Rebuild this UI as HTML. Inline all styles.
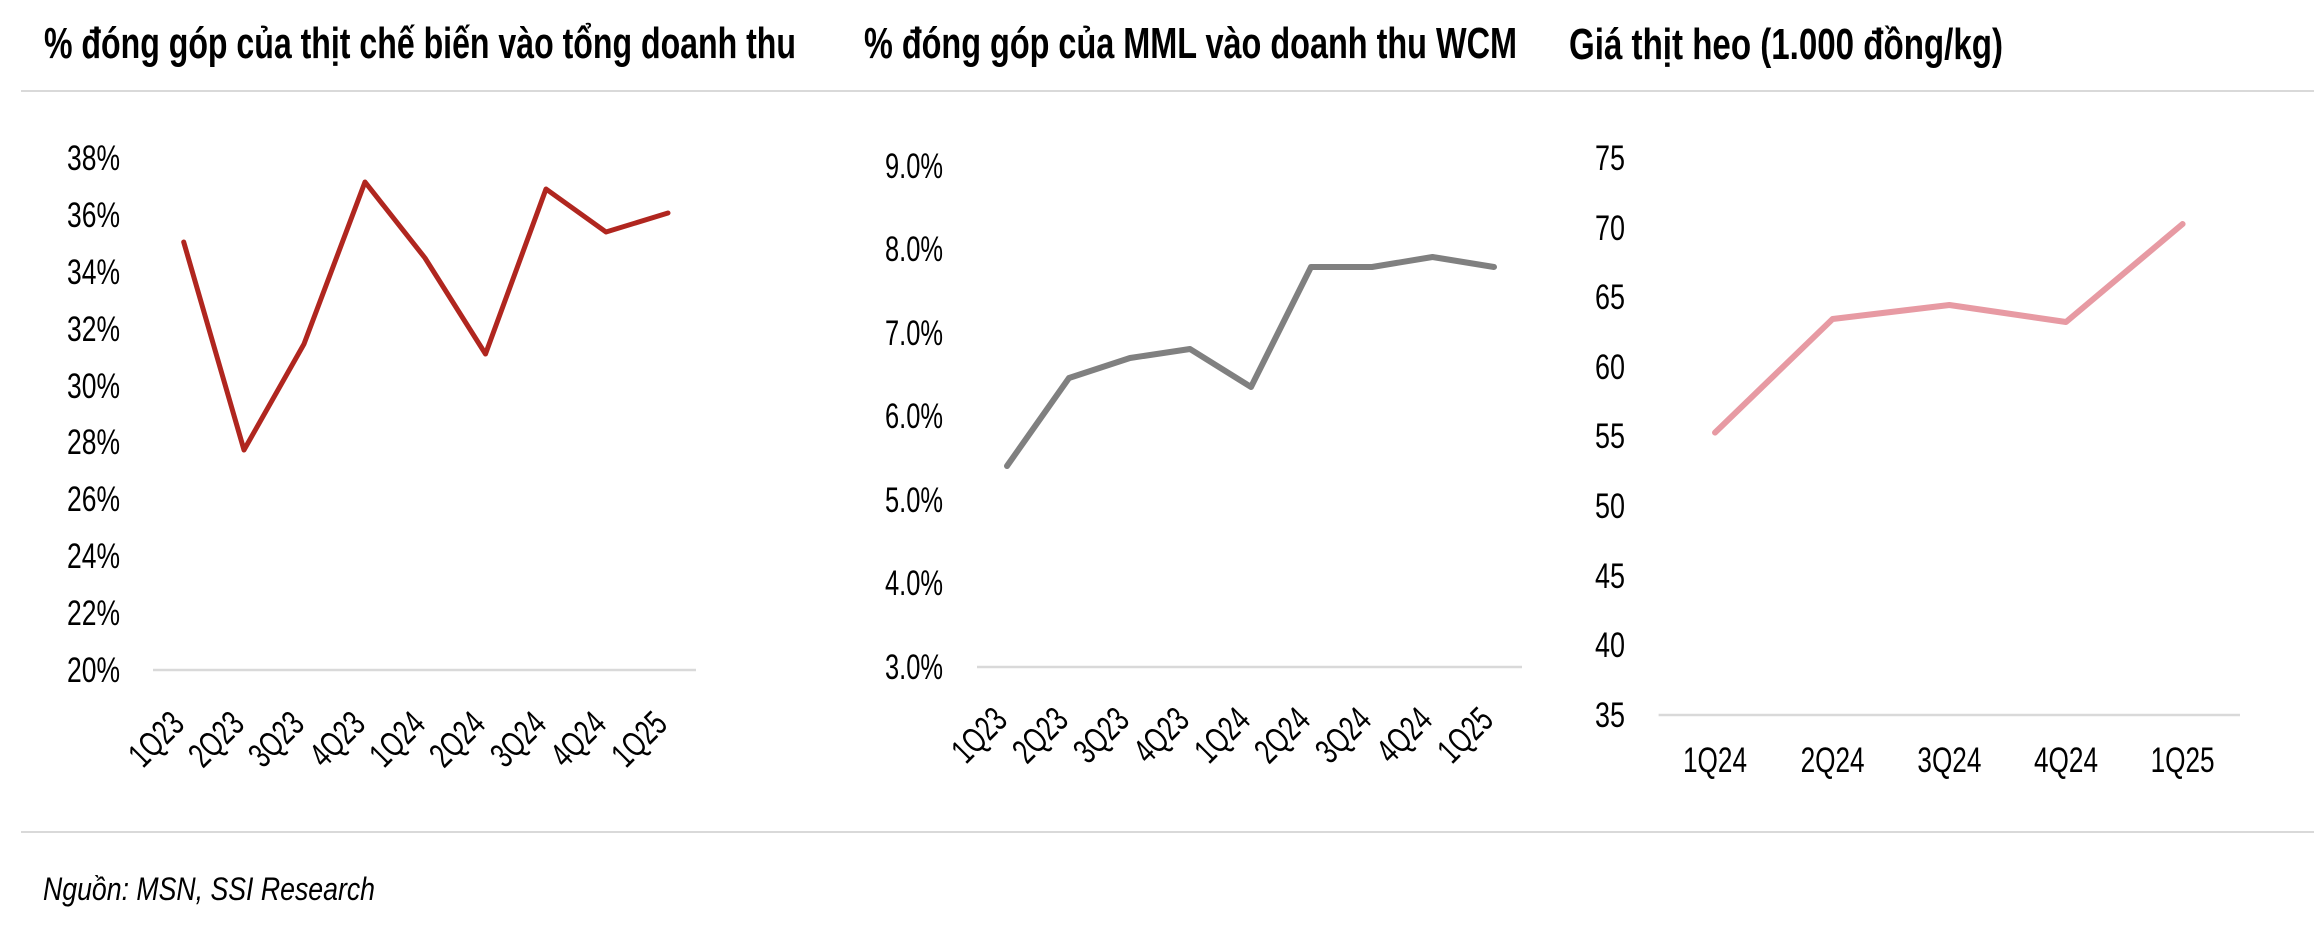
<!DOCTYPE html>
<html>
<head>
<meta charset="utf-8">
<style>
  html, body { margin:0; padding:0; background:#fff; }
  svg { display:block; }
  text { font-family: "Liberation Sans Narrow", "Liberation Sans", sans-serif; fill:#000; }
  .t { font-weight:bold; font-size:44px; }
  .tk { font-size:35px; }
  .ft { font-size:32px; font-style:italic; }
</style>
</head>
<body>
<svg width="2314" height="936" viewBox="0 0 2314 936" xmlns="http://www.w3.org/2000/svg">
  <rect width="2314" height="936" fill="#fff"/>

  <!-- Titles -->
  <text class="t" x="44" y="58" textLength="752" lengthAdjust="spacingAndGlyphs">% đóng góp của thịt chế biến vào tổng doanh thu</text>
  <text class="t" x="864" y="58" textLength="653" lengthAdjust="spacingAndGlyphs">% đóng góp của MML vào doanh thu WCM</text>
  <text class="t" x="1569" y="59" textLength="434" lengthAdjust="spacingAndGlyphs">Giá thịt heo (1.000 đồng/kg)</text>

  <!-- separators -->
  <line x1="21" y1="91" x2="2314" y2="91" stroke="#d9d9d9" stroke-width="2"/>
  <line x1="21" y1="832" x2="2314" y2="832" stroke="#d9d9d9" stroke-width="2"/>

  <!-- Chart 1 -->
  <g class="tk" text-anchor="end">
    <text x="120" y="170" textLength="53" lengthAdjust="spacingAndGlyphs">38%</text>
    <text x="120" y="227" textLength="53" lengthAdjust="spacingAndGlyphs">36%</text>
    <text x="120" y="284" textLength="53" lengthAdjust="spacingAndGlyphs">34%</text>
    <text x="120" y="341" textLength="53" lengthAdjust="spacingAndGlyphs">32%</text>
    <text x="120" y="398" textLength="53" lengthAdjust="spacingAndGlyphs">30%</text>
    <text x="120" y="454" textLength="53" lengthAdjust="spacingAndGlyphs">28%</text>
    <text x="120" y="511" textLength="53" lengthAdjust="spacingAndGlyphs">26%</text>
    <text x="120" y="568" textLength="53" lengthAdjust="spacingAndGlyphs">24%</text>
    <text x="120" y="625" textLength="53" lengthAdjust="spacingAndGlyphs">22%</text>
    <text x="120" y="682" textLength="53" lengthAdjust="spacingAndGlyphs">20%</text>
  </g>
  <line x1="153" y1="670" x2="696" y2="670" stroke="#d9d9d9" stroke-width="2.5"/>
  <polyline fill="none" stroke="#B0261F" stroke-width="5" stroke-linejoin="round" stroke-linecap="round"
    points="183.7,242 244,450 304,344 365,182 425,258 485.5,354 546,189 606,232 668,213"/>
  <g class="tk" text-anchor="end">
    <text x="186" y="726" transform="rotate(-45 186 726)" textLength="61" lengthAdjust="spacingAndGlyphs">1Q23</text>
    <text x="246" y="726" transform="rotate(-45 246 726)" textLength="61" lengthAdjust="spacingAndGlyphs">2Q23</text>
    <text x="306" y="726" transform="rotate(-45 306 726)" textLength="61" lengthAdjust="spacingAndGlyphs">3Q23</text>
    <text x="367" y="726" transform="rotate(-45 367 726)" textLength="61" lengthAdjust="spacingAndGlyphs">4Q23</text>
    <text x="427" y="726" transform="rotate(-45 427 726)" textLength="61" lengthAdjust="spacingAndGlyphs">1Q24</text>
    <text x="487" y="726" transform="rotate(-45 487 726)" textLength="61" lengthAdjust="spacingAndGlyphs">2Q24</text>
    <text x="548" y="726" transform="rotate(-45 548 726)" textLength="61" lengthAdjust="spacingAndGlyphs">3Q24</text>
    <text x="608" y="726" transform="rotate(-45 608 726)" textLength="61" lengthAdjust="spacingAndGlyphs">4Q24</text>
    <text x="669" y="726" transform="rotate(-45 669 726)" textLength="61" lengthAdjust="spacingAndGlyphs">1Q25</text>
  </g>

  <!-- Chart 2 -->
  <g class="tk" text-anchor="end">
    <text x="943" y="178" textLength="58" lengthAdjust="spacingAndGlyphs">9.0%</text>
    <text x="943" y="261" textLength="58" lengthAdjust="spacingAndGlyphs">8.0%</text>
    <text x="943" y="345" textLength="58" lengthAdjust="spacingAndGlyphs">7.0%</text>
    <text x="943" y="428" textLength="58" lengthAdjust="spacingAndGlyphs">6.0%</text>
    <text x="943" y="512" textLength="58" lengthAdjust="spacingAndGlyphs">5.0%</text>
    <text x="943" y="595" textLength="58" lengthAdjust="spacingAndGlyphs">4.0%</text>
    <text x="943" y="679" textLength="58" lengthAdjust="spacingAndGlyphs">3.0%</text>
  </g>
  <line x1="977" y1="667" x2="1522" y2="667" stroke="#d9d9d9" stroke-width="2.5"/>
  <polyline fill="none" stroke="#808080" stroke-width="6" stroke-linejoin="round" stroke-linecap="round"
    points="1007,466 1069,378 1130,358 1190,349 1251,387 1311,267 1372,267 1432.5,257 1494,267"/>
  <g class="tk" text-anchor="end">
    <text x="1009" y="722" transform="rotate(-45 1009 722)" textLength="61" lengthAdjust="spacingAndGlyphs">1Q23</text>
    <text x="1070" y="722" transform="rotate(-45 1070 722)" textLength="61" lengthAdjust="spacingAndGlyphs">2Q23</text>
    <text x="1131" y="722" transform="rotate(-45 1131 722)" textLength="61" lengthAdjust="spacingAndGlyphs">3Q23</text>
    <text x="1191" y="722" transform="rotate(-45 1191 722)" textLength="61" lengthAdjust="spacingAndGlyphs">4Q23</text>
    <text x="1252" y="722" transform="rotate(-45 1252 722)" textLength="61" lengthAdjust="spacingAndGlyphs">1Q24</text>
    <text x="1312" y="722" transform="rotate(-45 1312 722)" textLength="61" lengthAdjust="spacingAndGlyphs">2Q24</text>
    <text x="1373" y="722" transform="rotate(-45 1373 722)" textLength="61" lengthAdjust="spacingAndGlyphs">3Q24</text>
    <text x="1434" y="722" transform="rotate(-45 1434 722)" textLength="61" lengthAdjust="spacingAndGlyphs">4Q24</text>
    <text x="1495" y="722" transform="rotate(-45 1495 722)" textLength="61" lengthAdjust="spacingAndGlyphs">1Q25</text>
  </g>

  <!-- Chart 3 -->
  <g class="tk" text-anchor="end">
    <text x="1625" y="170" textLength="30" lengthAdjust="spacingAndGlyphs">75</text>
    <text x="1625" y="240" textLength="30" lengthAdjust="spacingAndGlyphs">70</text>
    <text x="1625" y="309" textLength="30" lengthAdjust="spacingAndGlyphs">65</text>
    <text x="1625" y="379" textLength="30" lengthAdjust="spacingAndGlyphs">60</text>
    <text x="1625" y="448" textLength="30" lengthAdjust="spacingAndGlyphs">55</text>
    <text x="1625" y="518" textLength="30" lengthAdjust="spacingAndGlyphs">50</text>
    <text x="1625" y="588" textLength="30" lengthAdjust="spacingAndGlyphs">45</text>
    <text x="1625" y="657" textLength="30" lengthAdjust="spacingAndGlyphs">40</text>
    <text x="1625" y="727" textLength="30" lengthAdjust="spacingAndGlyphs">35</text>
  </g>
  <line x1="1658.6" y1="715" x2="2240" y2="715" stroke="#d9d9d9" stroke-width="2.5"/>
  <polyline fill="none" stroke="#E79AA3" stroke-width="6" stroke-linejoin="round" stroke-linecap="round"
    points="1715,432.6 1832.6,319 1949.4,305 2066,322 2182.6,224"/>
  <g class="tk" text-anchor="middle">
    <text x="1715" y="772" textLength="64" lengthAdjust="spacingAndGlyphs">1Q24</text>
    <text x="1832.6" y="772" textLength="64" lengthAdjust="spacingAndGlyphs">2Q24</text>
    <text x="1949.4" y="772" textLength="64" lengthAdjust="spacingAndGlyphs">3Q24</text>
    <text x="2066" y="772" textLength="64" lengthAdjust="spacingAndGlyphs">4Q24</text>
    <text x="2182.6" y="772" textLength="64" lengthAdjust="spacingAndGlyphs">1Q25</text>
  </g>

  <!-- Footer -->
  <text class="ft" x="43" y="900" textLength="332" lengthAdjust="spacingAndGlyphs">Nguồn: MSN, SSI Research</text>
</svg>
</body>
</html>
